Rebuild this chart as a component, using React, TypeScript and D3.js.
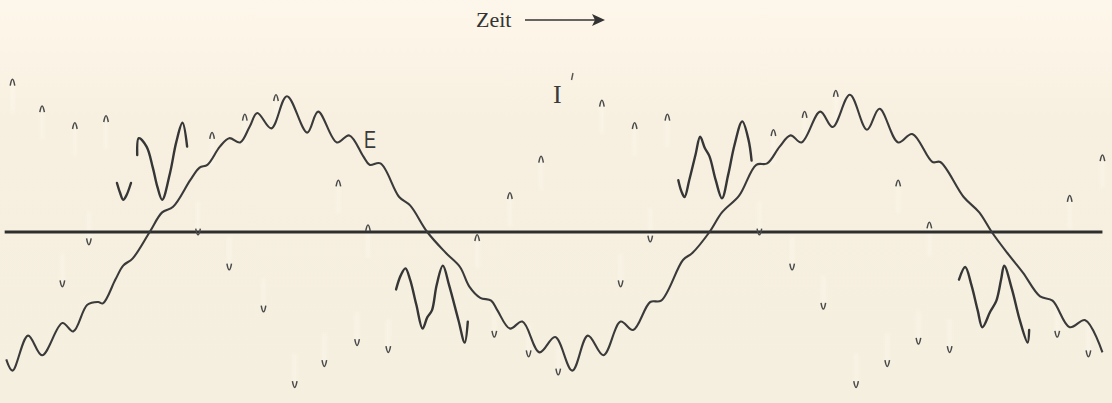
import React from "react";
import * as d3 from "d3";

const W = 1112;
const H = 403;

// Voltage curve E : phase angle (degrees) and amplitude (arbitrary units)
const eAngle = [-92, -88, -78, -69, -56, -49, -40, -33, -30, -22, -17, -11, 0, 8, 15, 26, 32, 37, 45, 51, 58, 64, 69, 78, 88, 101, 108, 120, 128, 137, 141, 148, 160, 167, 178, 190, 199, 205, 212, 219, 223, 231, 239, 250, 260, 271, 281, 291, 302, 310, 321, 328, 342, 348, 359, 367, 378, 389, 396, 404, 411, 418, 430, 438, 449, 460, 468, 480, 489, 502, 507, 522, 532, 540, 550, 560, 571, 579, 590, 600, 611];
const eValue = [-91, -99, -74, -88, -65, -71, -52, -50, -51, -34, -24, -19, 0, 14, 18, 37, 46, 48, 61, 67, 64, 75, 85, 74, 97, 71, 86, 64, 69, 54, 48, 49, 25, 19, 0, -15, -25, -39, -47, -49, -56, -69, -64, -86, -75, -99, -74, -88, -64, -70, -50, -49, -20, -15, 0, 14, 26, 48, 49, 61, 69, 64, 86, 75, 98, 73, 88, 64, 70, 50, 50, 25, 14, 0, -15, -29, -46, -49, -68, -63, -86];

// Visible pieces of the current curve I' : [angle, value]
const iSegment1 = [[-21, 35], [-19, 28], [-17, 23], [-15, 26], [-12, 35]];
const iSegment2 = [[-8, 55], [-7, 67], [-2, 61], [2, 46], [5, 32], [8, 23], [13, 42], [17, 64], [21, 78], [24, 61]];
const iSegment3 = [[158, -41], [161, -31], [164, -26], [167, -34], [171, -52], [175, -69], [178, -61], [181, -56], [184, -38], [188, -24], [192, -38], [198, -63], [202, -79], [204, -64]];
const iSegment4 = [[339, 37], [341, 29], [343, 25], [346, 37], [350, 55], [353, 68], [356, 60], [359, 54], [363, 37], [367, 24], [371, 41], [375, 62], [380, 79], [384, 66], [386, 51]];
const iSegment5 = [[519, -34], [523, -25], [527, -38], [531, -56], [534, -68], [539, -57], [543, -49], [546, -34], [548, -24], [553, -41], [558, -63], [563, -79], [564, -70]];

// Isolated crest marks of the fast current trace: [angle, value]
const crestsUp = [[-88, 111], [-69, 92], [-48, 80], [-28, 85], [40, 73], [61, 86], [81, 100], [121, 39], [140, 7], [210, 0], [231, 30], [251, 56], [290, 96], [311, 80], [332, 86], [400, 75], [420, 88], [440, 103], [480, 39], [500, 9], [590, 28], [611, 57]];
const crestsDown = [[-56, -41], [-39, -11], [31, -4], [51, -29], [73, -59], [93, -113], [112, -98], [133, -83], [153, -88], [221, -77], [243, -91], [262, -104], [302, -41], [321, -9], [391, -4], [412, -29], [432, -57], [453, -113], [473, -98], [493, -82], [513, -88], [582, -77], [602, -91]];

const axisRange = [-93, 611];

export default function App() {
  const x = d3.scaleLinear().domain([-96, 612]).range([0, 1104]);
  const y = d3.scaleLinear().domain([-120, 120]).range([400, 64]);

  const eLine = d3
    .line<number>()
    .x((_, i) => x(eAngle[i]))
    .y((_, i) => y(eValue[i]))
    .curve(d3.curveCatmullRom.alpha(0.5));

  const segLine = d3
    .line<number[]>()
    .x((d) => x(d[0]))
    .y((d) => y(d[1]))
    .curve(d3.curveCatmullRom.alpha(0.5));

  const segments = [iSegment1, iSegment2, iSegment3, iSegment4, iSegment5];

  return (
    <svg
      width={W}
      height={H}
      style={{ position: "absolute", left: 0, top: 0, display: "block" }}
    >
      <defs>
        <linearGradient id="paper" x1="0" y1="0" x2="0" y2="1">
          <stop offset="0" stopColor="#fdf6ea" />
          <stop offset="0.15" stopColor="#fbf4e6" />
          <stop offset="0.3" stopColor="#f7f0e0" />
          <stop offset="1" stopColor="#f5efdf" />
        </linearGradient>
        <filter id="soft" x="-2" y="-0.5" width="5" height="2">
          <feGaussianBlur stdDeviation="1.8" />
        </filter>
      </defs>
      <rect x={0} y={0} width={W} height={H} fill="url(#paper)" />

      {/* faint streaks of the fast trace */}
      {crestsUp.map((d, i) => (
        <rect
          key={"su" + i}
          x={x(d[0]) - 2}
          y={y(d[1]) + 6}
          width={4}
          height={30}
          fill="#fffcf4"
          opacity={0.35}
          filter="url(#soft)"
        />
      ))}
      {crestsDown.map((d, i) => (
        <rect
          key={"sd" + i}
          x={x(d[0]) - 2}
          y={y(d[1]) - 36}
          width={4}
          height={30}
          fill="#fffcf4"
          opacity={0.35}
          filter="url(#soft)"
        />
      ))}

      {/* title */}
      <text
        x={476}
        y={27}
        fontFamily="'Liberation Serif', 'DejaVu Serif', serif"
        fontSize={22}
        fill="#333"
      >
        Zeit
      </text>
      <line x1={525} y1={20} x2={598} y2={20} stroke="#333" strokeWidth={1.6} />
      <path d="M 592 14 L 605 20 L 592 26 L 595 20 Z" fill="#333" />

      {/* zero axis */}
      <line
        x1={x(axisRange[0])}
        x2={x(axisRange[1])}
        y1={y(0)}
        y2={y(0)}
        stroke="#2e2e2e"
        strokeWidth={3}
      />

      {/* voltage curve */}
      <path
        d={eLine(eAngle) || ""}
        fill="none"
        stroke="#3a3a3a"
        strokeWidth={2.1}
      />

      {/* current curve visible pieces */}
      {segments.map((s, i) => (
        <path
          key={i}
          d={segLine(s) || ""}
          fill="none"
          stroke="#363636"
          strokeWidth={2.4}
          strokeLinecap="round"
        />
      ))}

      {crestsUp.map((d, i) => (
        <path
          key={"u" + i}
          transform={`translate(${x(d[0])},${y(d[1])})`}
          d="M -2.3 9 Q 0 -3.5 2.3 9"
          fill="none"
          stroke="#4a4a4a"
          strokeWidth={1.5}
        />
      ))}
      {crestsDown.map((d, i) => (
        <path
          key={"d" + i}
          transform={`translate(${x(d[0])},${y(d[1])})`}
          d="M -2.3 -9 Q 0 3.5 2.3 -9"
          fill="none"
          stroke="#4a4a4a"
          strokeWidth={1.5}
        />
      ))}

      {/* labels */}
      <text
        x={364}
        y={148}
        fontFamily="'Liberation Sans', Arial, sans-serif"
        fontSize={24}
        fill="#3a3a3a"
        transform="translate(364,148) scale(0.75,1) translate(-364,-148)"
      >
        E
      </text>
      <text
        x={553}
        y={103}
        fontFamily="'Liberation Serif', serif"
        fontSize={26}
        fill="#3a3a3a"
      >
        I
      </text>
      <line x1={573} y1={73} x2={571.5} y2={80} stroke="#555" strokeWidth={1.4} />
    </svg>
  );
}
